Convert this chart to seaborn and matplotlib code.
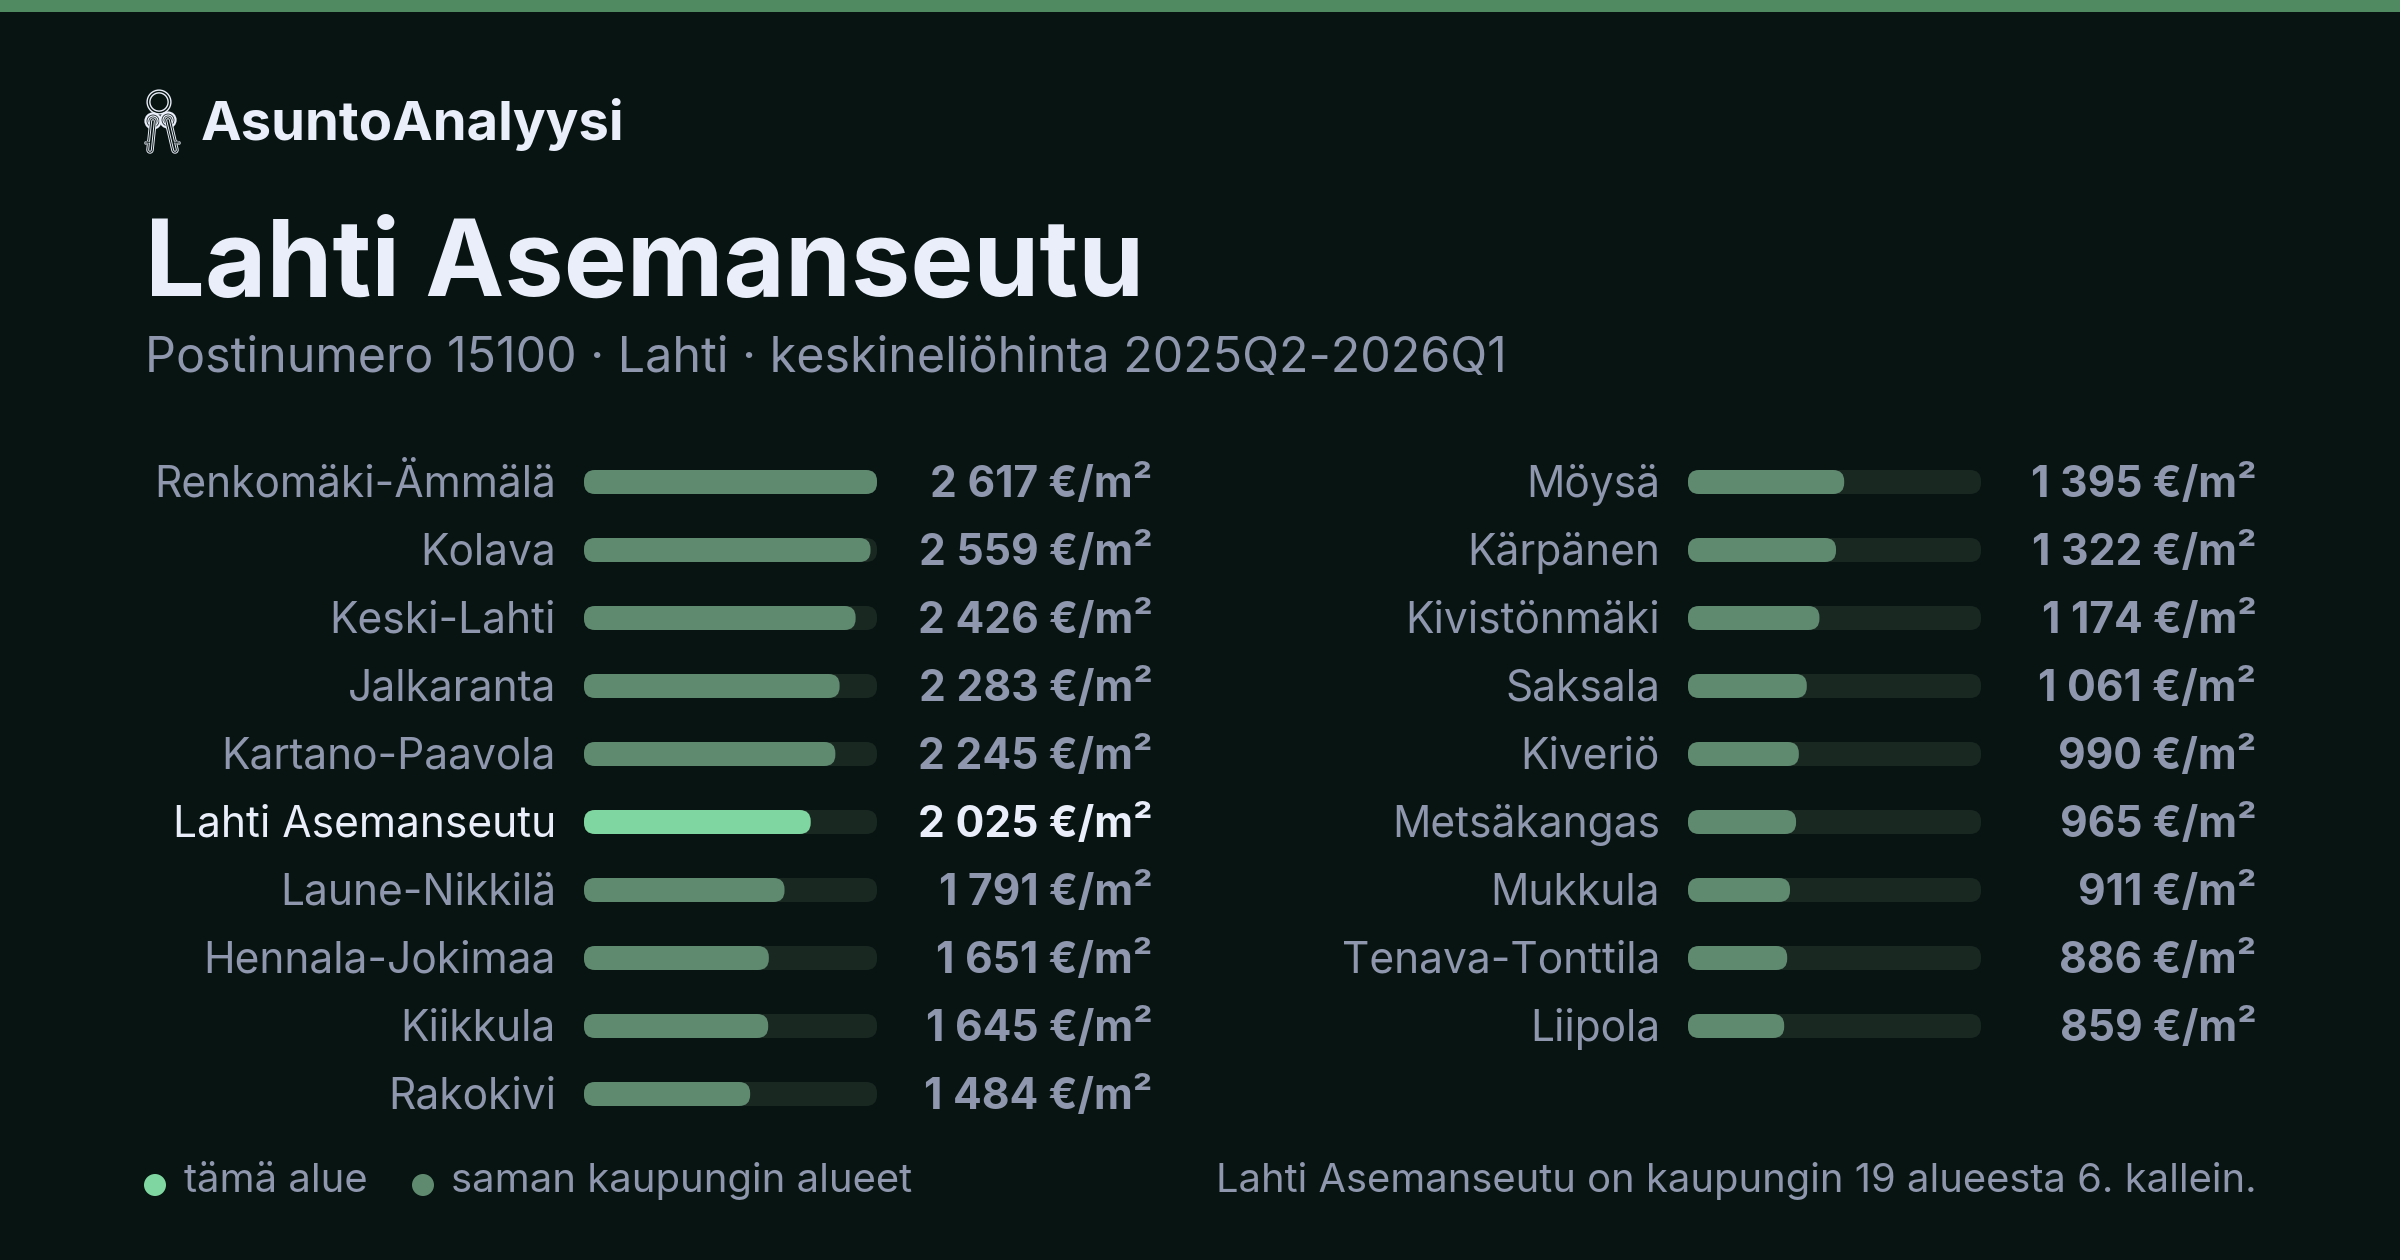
import matplotlib
matplotlib.use('Agg')
import matplotlib.pyplot as plt
import pandas as pd
import seaborn as sns
from matplotlib.patches import Circle, FancyBboxPatch, Rectangle
from matplotlib.transforms import IdentityTransform, ScaledTranslation

# values
left_names = ['Renkomäki-Ämmälä', 'Kolava', 'Keski-Lahti', 'Jalkaranta', 'Kartano-Paavola',
              'Lahti Asemanseutu', 'Laune-Nikkilä', 'Hennala-Jokimaa', 'Kiikkula', 'Rakokivi']
left_prices = [2617, 2559, 2426, 2283, 2245, 2025, 1791, 1651, 1645, 1484]
right_names = ['Möysä', 'Kärpänen', 'Kivistönmäki', 'Saksala', 'Kiveriö',
               'Metsäkangas', 'Mukkula', 'Tenava-Tonttila', 'Liipola']
right_prices = [1395, 1322, 1174, 1061, 990, 965, 911, 886, 859]
this_area = 'Lahti Asemanseutu'

BG = '#081411'
TOP = '#4f8a60'
TRACK = '#1a2822'
BAR = '#5f8a70'
HI = '#7fd6a0'
WHITE = '#e9eefa'
GREY = '#8e97ae'
FONT = 'Inter'
W, H = 2400, 1260

sns.set_theme(style='white')
plt.rcParams['font.family'] = [FONT, 'DejaVu Sans']

fig = plt.figure(figsize=(W / 100, H / 100), dpi=100, facecolor=BG)

# overlay in pixel coordinates for header and footer
bg = fig.add_axes([0, 0, 1, 1])
bg.set_xlim(0, W)
bg.set_ylim(H, 0)
bg.axis('off')
bg.add_patch(Rectangle((0, 0), W, 12, color=TOP, lw=0))


def px(p):
    return p * 72 / 100


def fmt(v):
    return f'{v:,}'.replace(',', '\u2005') + ' €/m²'


def rounded(ax, x0, x1, y0, y1, color, z):
    # rounded bar in display pixels so the corners stay circular
    r = 11
    p = FancyBboxPatch((x0 + r, y0 + r), x1 - x0 - 2 * r, y1 - y0 - 2 * r,
                       boxstyle=f'round,pad={r},rounding_size={r}',
                       fc=color, ec='none', transform=IdentityTransform(), zorder=z)
    ax.add_patch(p)


def draw_column(names, prices, left, label_pad, value_right):
    row_h = 68
    ax = fig.add_axes([left / W, 1 - 1128 / H, 293 / W, 680 / H])
    df = pd.DataFrame({'name': names, 'price': prices})
    df['kind'] = ['this' if n == this_area else 'other' for n in names]
    sns.barplot(data=df, x='price', y='name', hue='kind', dodge=False, legend=False,
                palette={'this': HI, 'other': BAR}, width=24 / row_h, saturation=1, ax=ax)
    ax.set_xlim(0, max(left_prices))
    ax.set_ylim(9.5, -0.5)
    ax.set_facecolor('none')
    ax.set_xlabel('')
    ax.set_ylabel('')
    ax.set_xticks([])
    sns.despine(ax=ax, left=True, bottom=True)
    ax.tick_params(axis='y', length=0, pad=px(label_pad), labelsize=px(42.5), labelcolor=GREY)
    fig.canvas.draw()

    for bar in list(ax.patches):
        if bar.get_width() <= 0 or pd.isna(bar.get_width()):
            continue
        bb = bar.get_window_extent()
        rounded(ax, left, left + 293, bb.y0, bb.y1, TRACK, 1)
        rounded(ax, bb.x0, bb.x1, bb.y0, bb.y1, bar.get_facecolor(), 2)
        bar.set_visible(False)

    for i, (n, v) in enumerate(zip(names, prices)):
        hi = n == this_area
        ax.annotate(fmt(v), xy=(1, i), xycoords=ax.get_yaxis_transform(),
                    xytext=(px(value_right - left - 293), px(-15)), textcoords='offset points',
                    ha='right', va='baseline', fontsize=px(42.6), fontweight='bold',
                    color=WHITE if hi else GREY, annotation_clip=False)
    nudge = ScaledTranslation(0, 1.5 / 100, fig.dpi_scale_trans)
    for lab in ax.get_yticklabels():
        lab.set_transform(lab.get_transform() + nudge)
        if lab.get_text() == this_area:
            lab.set_color(WHITE)


draw_column(left_names, left_prices, 584, 28, 1152.5)
draw_column(right_names, right_prices, 1688, 28, 2256.5)

# header
bg.text(201, 140, 'AsuntoAnalyysi', fontsize=px(54.5), fontweight='bold', color=WHITE)
bg.text(145, 296, this_area, fontsize=px(106), fontweight='bold', color=WHITE)
bg.text(145, 372, 'Postinumero 15100 · Lahti · keskineliöhinta 2025Q2-2026Q1',
        fontsize=px(48.4), color=GREY)

# key icon
for c in [(159, 102)]:
    bg.add_patch(Circle(c, 10.5, fc='none', ec=WHITE, lw=3.0))
    bg.add_patch(Circle(c, 10.5, fc='none', ec=BG, lw=1.0))
for head, tip, notch in [((153, 121), (150, 150), (146, 143)), ((168, 120), (175, 150), (179, 143))]:
    for lw, col in [(5.4, WHITE), (4.0, BG), (2.6, WHITE), (1.2, BG)]:
        bg.plot([head[0], tip[0]], [head[1], tip[1]], color=col, lw=lw, solid_capstyle='round')
        bg.plot([notch[0], (tip[0] + head[0]) / 2 + (tip[0] - head[0]) * 0.35],
                [notch[1], notch[1] - 1], color=col, lw=lw * 0.5, solid_capstyle='round')
    bg.add_patch(Circle(head, 7.5, fc=BG, ec=WHITE, lw=1.6))
    bg.add_patch(Circle(head, 5, fc=BG, ec=WHITE, lw=0.9))
bg.set_xlim(0, W)
bg.set_ylim(H, 0)

# legend and footer
bg.add_patch(Circle((155, 1185), 11, fc=HI, ec='none'))
bg.text(184, 1192, 'tämä alue', fontsize=px(40), color=GREY)
bg.add_patch(Circle((423, 1185), 11, fc=BAR, ec='none'))
bg.text(451, 1192, 'saman kaupungin alueet', fontsize=px(40), color=GREY)
bg.text(2256.5, 1192, 'Lahti Asemanseutu on kaupungin 19 alueesta 6. kallein.',
        fontsize=px(39.9), color=GREY, ha='right')

fig.savefig('out.png', dpi=100, facecolor=BG)
